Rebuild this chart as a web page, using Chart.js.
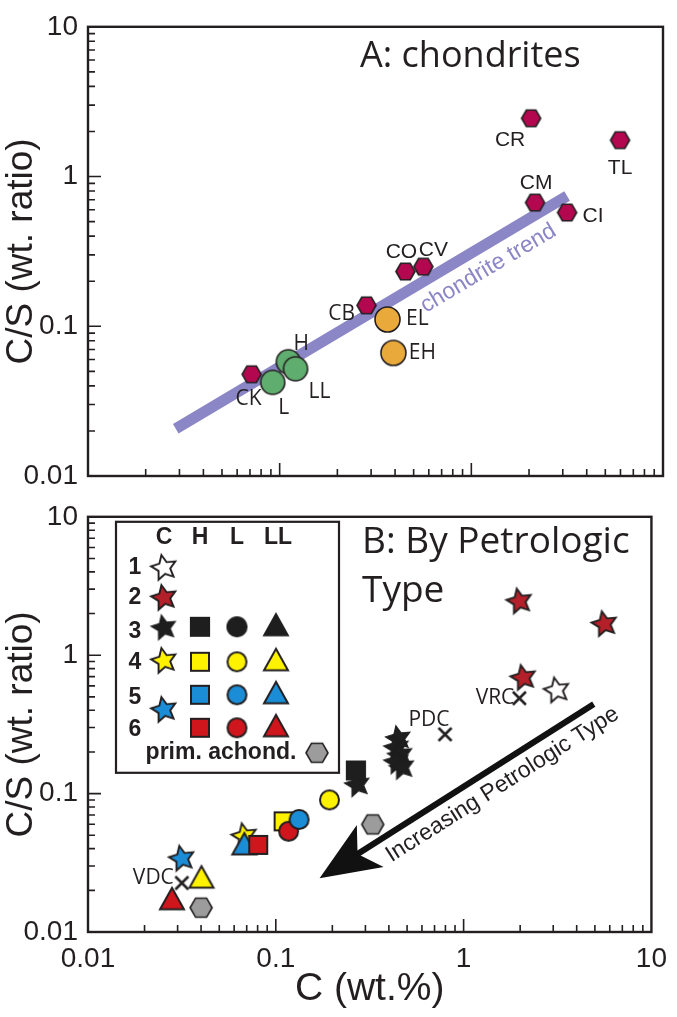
<!DOCTYPE html>
<html>
<head>
<meta charset="utf-8">
<title>C/S vs C in chondrites</title>
<script src="https://cdn.jsdelivr.net/npm/chart.js@4.4.1/dist/chart.umd.min.js"></script>
<style>
  html, body { margin: 0; padding: 0; background: #fff; }
  body { width: 677px; height: 1017px; position: relative; overflow: hidden; }
  canvas { position: absolute; left: 0; }
  #panelA { top: 0; }
  #panelB { top: 490px; }
</style>
</head>
<body>
<canvas id="panelA" width="677" height="505"></canvas>
<canvas id="panelB" width="677" height="527"></canvas>
<script>
// log-log axes, same on both panels
const decades = [0.01, 0.1, 1, 10];

// ---- Panel A: chondrite groups (C wt.%, C/S wt. ratio)
const carbLabels = ['CR', 'TL', 'CM', 'CI', 'CO', 'CV', 'CB', 'CK'];
const carbC  = [2.05, 5.97, 2.15, 3.16, 0.453, 0.562, 0.284, 0.0714];
const carbCS = [2.45, 1.75, 0.67, 0.575, 0.232, 0.25, 0.138, 0.0478];

const ordLabels = ['H', 'L', 'LL'];
const ordC  = [0.111, 0.092, 0.121];
const ordCS = [0.058, 0.0422, 0.052];

const enstLabels = ['EL', 'EH'];
const enstC  = [0.365, 0.392];
const enstCS = [0.111, 0.0664];

const trendC  = [0.0287, 3.16];
const trendCS = [0.0207, 0.741];

// ---- Panel B: by petrologic type
const t1StarC = [3.13],               t1StarCS = [0.557];
const t2StarC = [1.98, 5.62, 2.08],   t2StarCS = [2.45, 1.68, 0.687];
const t3StarC = [0.45, 0.44, 0.46, 0.44, 0.47, 0.272];
const t3StarCS = [0.25, 0.215, 0.19, 0.17, 0.155, 0.116];
const t3SquareC = [0.267],            t3SquareCS = [0.147];
const t4StarC = [0.068],              t4StarCS = [0.0493];
const t4SquareC = [0.110],            t4SquareCS = [0.063];
const t4CircleC = [0.193],            t4CircleCS = [0.090];
const t4TriC = [0.0402],              t4TriCS = [0.0245];
const t5StarC = [0.0316],             t5StarCS = [0.0339];
const t5TriC = [0.068],               t5TriCS = [0.0426];
const t5CircleC = [0.133],            t5CircleCS = [0.065];
const t6SquareC = [0.0806],           t6SquareCS = [0.0426];
const t6CircleC = [0.117],            t6CircleCS = [0.0534];
const t6TriC = [0.028],               t6TriCS = [0.0171];
const achondC = [0.040, 0.328],       achondCS = [0.0150, 0.0599];
const namedLabels = ['VRC', 'PDC', 'VDC'];
const namedC  = [1.98, 0.796, 0.0316];
const namedCS = [0.489, 0.268, 0.0226];
const arrowC  = [4.93, 0.171];
const arrowCS = [0.443, 0.0245];

const legendCols = ['C', 'H', 'L', 'LL'];
const legendRows = ['1', '2', '3', '4', '5', '6'];

// ---- styles
const INK = '#231f20';
const ARIAL = '"Liberation Sans", Arial, sans-serif';
const MYRIAD = '"Open Sans", "Noto Sans", sans-serif';

function marker(shape, size, fill, stroke, lw) {
  const d = Math.ceil(size + lw * 2 + 4);
  const c = document.createElement('canvas');
  c.width = d; c.height = d;
  const g = c.getContext('2d');
  const r = size / 2;
  g.translate(d / 2, d / 2);
  g.beginPath();
  if (shape === 'circle') {
    g.arc(0, 0, r, 0, Math.PI * 2);
  } else if (shape === 'square') {
    g.rect(-r, -r, size, size);
  } else if (shape === 'triangle') {
    g.moveTo(0, -r); g.lineTo(r, r * 0.8); g.lineTo(-r, r * 0.8); g.closePath();
  } else if (shape === 'hex') {
    for (let i = 0; i < 6; i++) {
      const a = i * Math.PI / 3;
      g.lineTo(r * Math.cos(a), r * Math.sin(a));
    }
    g.closePath();
  } else if (shape === 'star') {
    for (let i = 0; i < 10; i++) {
      const a = -Math.PI / 2 + i * Math.PI / 5 - 0.2;
      const rr = i % 2 ? r * 0.48 : r;
      g.lineTo(rr * Math.cos(a), rr * Math.sin(a));
    }
    g.closePath();
  } else if (shape === 'cross') {
    g.moveTo(-r, -r); g.lineTo(r, r); g.moveTo(r, -r); g.lineTo(-r, r);
    g.lineWidth = lw; g.strokeStyle = stroke; g.stroke();
    return c;
  }
  g.fillStyle = fill; g.fill();
  g.lineJoin = 'miter'; g.lineWidth = lw; g.strokeStyle = stroke; g.stroke();
  return c;
}

const RED = '#d0161d', YEL = '#fff200', BLUE = '#1b8dd6', GRAY = '#9c9c9c';
const M = {
  hexA: marker('hex', 19, '#b3084f', INK, 1.6),
  greenA: marker('circle', 24, '#5fad6f', INK, 1.6),
  orangeA: marker('circle', 25, '#eaa93b', INK, 1.6),
  star1: marker('star', 26, '#ffffff', INK, 1.9),
  star2: marker('star', 26, '#b32029', INK, 1.9),
  star3: marker('star', 26, '#1e1e1e', '#1e1e1e', 1.2),
  star4: marker('star', 26, YEL, INK, 1.9),
  star5: marker('star', 26, BLUE, INK, 1.9),
  sq3: marker('square', 19, '#1e1e1e', '#1e1e1e', 1.2),
  sq4: marker('square', 18, YEL, INK, 2),
  sq6: marker('square', 18, RED, INK, 2),
  sq5: marker('square', 18, BLUE, INK, 2),
  ci3: marker('circle', 20, '#1e1e1e', '#1e1e1e', 1.2),
  ci4: marker('circle', 19, YEL, INK, 2),
  ci5: marker('circle', 19, BLUE, INK, 2),
  ci6: marker('circle', 19, RED, INK, 2),
  tr3: marker('triangle', 25, '#1e1e1e', '#1e1e1e', 1.2),
  tr4: marker('triangle', 24, YEL, INK, 2),
  tr5: marker('triangle', 24, BLUE, INK, 2),
  tr6: marker('triangle', 24, RED, INK, 2),
  hexB: marker('hex', 22, GRAY, INK, 1.6),
  cross: marker('cross', 13, null, INK, 2.6)
};

function pts(xs, ys) { return xs.map((v, i) => ({ x: v, y: ys[i] })); }

function scatterSet(xs, ys, style, i) {
  return { type: 'scatter', data: pts(xs, ys), pointStyle: style, pointRadius: 10,
           pointHoverRadius: 10, order: -i };
}

function logAxis(pos, o) {
  return {
    type: 'logarithmic',
    position: pos,
    min: 0.01, max: 10,
    grid: { display: false, drawTicks: false },
    border: { display: false },
    ticks: {
      display: o.labels,
      padding: o.pad || 0,
      color: INK,
      font: { family: ARIAL, size: 28 },
      maxRotation: 0, autoSkip: false,
      callback: v => String(v)
    },
    title: {
      display: !!o.title, text: o.title || '', color: INK,
      font: { family: ARIAL, size: o.titleSize || 37 },
      padding: { top: 0, bottom: o.titlePad || 0 }
    },
    afterBuildTicks: s => { s.ticks = decades.map(v => ({ value: v })); },
    afterFit: s => { if (pos === 'bottom') s.height = o.size; else s.width = o.size; }
  };
}

// inward log ticks + box frame
const frameTicks = {
  id: 'frameTicks',
  afterDatasetsDraw(chart) {
    const { ctx, chartArea: a, scales: { x, y } } = chart;
    ctx.save();
    ctx.strokeStyle = INK;
    ctx.lineWidth = 1.6;
    ctx.beginPath();
    decades.slice(0, -1).forEach(d => {
      for (let k = 1; k < 10; k++) {
        const len = k === 1 ? 13 : 7;
        const px = x.getPixelForValue(k * d);
        const py = y.getPixelForValue(k * d);
        ctx.moveTo(px, a.bottom); ctx.lineTo(px, a.bottom - len);
        ctx.moveTo(a.left, py); ctx.lineTo(a.left + len, py);
      }
    });
    ctx.stroke();
    ctx.lineWidth = 2.4;
    ctx.strokeRect(a.left, a.top, a.right - a.left, a.bottom - a.top);
    ctx.restore();
  }
};

// ---- Panel A annotations
const labelOffA = {
  CR: [-21, 22], TL: [0, 28], CM: [1, -19], CI: [26, 4], CO: [-4, -19], CV: [10, -16],
  CB: [-25, 9], CK: [-3, 25], H: [13, -18], L: [11, 26], LL: [24, 23], EL: [30, 0], EH: [29, 0]
};
const myriadLabels = ['CB', 'CK', 'H', 'L', 'LL', 'EL', 'EH'];

const panelAText = {
  id: 'panelAText',
  afterDatasetsDraw(chart) {
    const { ctx, chartArea: a } = chart;
    ctx.save();
    ctx.fillStyle = INK;
    ctx.textAlign = 'center';
    ctx.textBaseline = 'middle';
    [[1, carbLabels], [2, ordLabels], [3, enstLabels]].forEach(([idx, names]) => {
      chart.getDatasetMeta(idx).data.forEach((p, j) => {
        const name = names[j];
        const off = labelOffA[name];
        ctx.font = (myriadLabels.includes(name) ? '21px ' + MYRIAD : '21px ' + ARIAL);
        ctx.fillText(name, p.x + off[0], p.y + off[1]);
      });
    });
    // label along the trend
    const tr = chart.getDatasetMeta(0).data;
    const ang = Math.atan2(tr[1].y - tr[0].y, tr[1].x - tr[0].x);
    const t = 0.77;
    const ax = tr[0].x + t * (tr[1].x - tr[0].x) - Math.sin(ang) * 22;
    const ay = tr[0].y + t * (tr[1].y - tr[0].y) + Math.cos(ang) * 22;
    ctx.translate(ax, ay);
    ctx.rotate(ang);
    ctx.fillStyle = '#8b86c6';
    ctx.font = '23px ' + ARIAL;
    ctx.fillText('chondrite trend', 0, 0);
    ctx.setTransform(1, 0, 0, 1, 0, 0);
    // panel title
    ctx.fillStyle = INK;
    ctx.textAlign = 'left';
    ctx.textBaseline = 'alphabetic';
    ctx.font = '36px ' + MYRIAD;
    ctx.fillText('A: chondrites', a.left + 272, a.top + 40);
    ctx.restore();
  }
};

new Chart(document.getElementById('panelA'), {
  type: 'scatter',
  data: {
    datasets: [
      { type: 'line', data: pts(trendC, trendCS), borderColor: '#8b86c6', borderWidth: 11,
        borderCapStyle: 'butt', pointRadius: 0, fill: false, order: 0 },
      scatterSet(carbC, carbCS, M.hexA, 1),
      scatterSet(ordC, ordCS, M.greenA, 2),
      scatterSet(enstC, enstCS, M.orangeA, 3)
    ]
  },
  options: {
    responsive: false,
    animation: false,
    layout: { padding: { top: 20, right: 14, left: 0, bottom: 0 } },
    plugins: { legend: { display: false }, tooltip: { enabled: false } },
    scales: {
      x: logAxis('bottom', { labels: false, size: 29 }),
      y: logAxis('left', { labels: true, pad: 10, size: 88, title: 'C/S (wt. ratio)' })
    }
  },
  plugins: [frameTicks, panelAText]
});

// ---- Panel B annotations
const panelBArrow = {
  id: 'panelBArrow',
  beforeDatasetsDraw(chart) {
    const { ctx, scales: { x, y } } = chart;
    const s = { x: x.getPixelForValue(arrowC[0]), y: y.getPixelForValue(arrowCS[0]) };
    const e = { x: x.getPixelForValue(arrowC[1]), y: y.getPixelForValue(arrowCS[1]) };
    const ang = Math.atan2(e.y - s.y, e.x - s.x);
    const ux = Math.cos(ang), uy = Math.sin(ang), nx = -uy, ny = ux;
    const headL = 60, headW = 25;
    ctx.save();
    ctx.strokeStyle = '#111';
    ctx.fillStyle = '#111';
    ctx.lineWidth = 6;
    ctx.beginPath();
    ctx.moveTo(s.x, s.y);
    ctx.lineTo(e.x - ux * headL * 0.7, e.y - uy * headL * 0.7);
    ctx.stroke();
    ctx.beginPath();
    ctx.moveTo(e.x, e.y);
    ctx.lineTo(e.x - ux * headL + nx * headW, e.y - uy * headL + ny * headW);
    ctx.lineTo(e.x - ux * headL * 0.75, e.y - uy * headL * 0.75);
    ctx.lineTo(e.x - ux * headL - nx * headW, e.y - uy * headL - ny * headW);
    ctx.closePath();
    ctx.fill();
    // text under the arrow, reading upward
    const ta = ang - Math.PI;
    const t = 0.37;
    const ax = s.x + t * (e.x - s.x) - Math.sin(ta) * 19;
    const ay = s.y + t * (e.y - s.y) + Math.cos(ta) * 19;
    ctx.translate(ax, ay);
    ctx.rotate(ta);
    ctx.fillStyle = INK;
    ctx.font = '23px ' + ARIAL;
    ctx.textAlign = 'center';
    ctx.textBaseline = 'middle';
    ctx.fillText('Increasing Petrologic Type', 0, 0);
    ctx.restore();
  }
};

const panelBText = {
  id: 'panelBText',
  afterDatasetsDraw(chart) {
    const { ctx, chartArea: a } = chart;
    ctx.save();
    ctx.fillStyle = INK;
    // named falls next to the crosses
    const named = chart.getDatasetMeta(chart.data.datasets.length - 1).data;
    ctx.font = '21px ' + MYRIAD;
    ctx.textBaseline = 'middle';
    ctx.textAlign = 'right';
    ctx.fillText(namedLabels[0], named[0].x - 5, named[0].y);
    ctx.textAlign = 'center';
    ctx.fillText(namedLabels[1], named[1].x - 16, named[1].y - 14);
    ctx.textAlign = 'right';
    ctx.fillText(namedLabels[2], named[2].x - 8, named[2].y - 5);

    // panel title
    ctx.textAlign = 'left';
    ctx.textBaseline = 'alphabetic';
    ctx.font = '37px ' + MYRIAD;
    ctx.fillText('B: By Petrologic', a.left + 274, a.top + 36);
    ctx.fillText('Type', a.left + 274, a.top + 85);

    // legend box
    const L = a.left, T = a.top;
    ctx.lineWidth = 2.2;
    ctx.strokeStyle = INK;
    ctx.strokeRect(L + 28, T + 5, 223, 251);
    ctx.font = 'bold 23px ' + ARIAL;
    ctx.textAlign = 'center';
    ctx.textBaseline = 'middle';
    const colX = [76, 112, 149, 190];
    legendCols.forEach((c, i) => ctx.fillText(c, L + colX[i], T + 21));
    const rowY = [51, 81, 115, 146, 181, 213];
    legendRows.forEach((r, i) => ctx.fillText(r, L + 47, T + rowY[i]));
    const put = (img, dx, dy) => ctx.drawImage(img, L + dx - img.width / 2, T + dy - img.height / 2);
    put(M.star1, 76, 51);
    put(M.star2, 76, 81);
    put(M.star3, 76, 111); put(M.sq3, 112, 110); put(M.ci3, 149, 110); put(M.tr3, 188, 109);
    put(M.star4, 76, 144); put(M.sq4, 112, 145); put(M.ci4, 149, 145); put(M.tr4, 188, 144);
    put(M.star5, 76, 193); put(M.sq5, 112, 178); put(M.ci5, 149, 178); put(M.tr5, 188, 177);
    put(M.sq6, 112, 211); put(M.ci6, 149, 211); put(M.tr6, 188, 210);
    ctx.fillText('prim. achond.', L + 133, T + 236);
    put(M.hexB, 229, 236);
    ctx.restore();
  }
};

const setsB = [
  [t2StarC, t2StarCS, M.star2],
  [t1StarC, t1StarCS, M.star1],
  [t3StarC, t3StarCS, M.star3],
  [t3SquareC, t3SquareCS, M.sq3],
  [achondC, achondCS, M.hexB],
  [t4CircleC, t4CircleCS, M.ci4],
  [t4SquareC, t4SquareCS, M.sq4],
  [t6CircleC, t6CircleCS, M.ci6],
  [t5CircleC, t5CircleCS, M.ci5],
  [t4StarC, t4StarCS, M.star4],
  [t5TriC, t5TriCS, M.tr5],
  [t6SquareC, t6SquareCS, M.sq6],
  [t5StarC, t5StarCS, M.star5],
  [t4TriC, t4TriCS, M.tr4],
  [t6TriC, t6TriCS, M.tr6],
  [namedC, namedCS, M.cross]
].map((s, i) => scatterSet(s[0], s[1], s[2], i));

new Chart(document.getElementById('panelB'), {
  type: 'scatter',
  data: { datasets: setsB },
  options: {
    responsive: false,
    animation: false,
    layout: { padding: { top: 17, right: 14, left: 0, bottom: 0 } },
    plugins: { legend: { display: false }, tooltip: { enabled: false } },
    scales: {
      x: logAxis('bottom', { labels: true, pad: 10, size: 85, title: 'C (wt.%)', titleSize: 39, titlePad: 4 }),
      y: logAxis('left', { labels: true, pad: 10, size: 88, title: 'C/S (wt. ratio)' })
    }
  },
  plugins: [panelBArrow, frameTicks, panelBText]
});
</script>
</body>
</html>
